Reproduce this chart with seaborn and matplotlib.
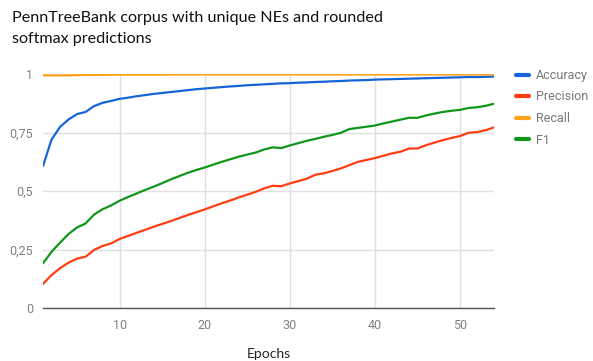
import numpy as np
import pandas as pd
import matplotlib
matplotlib.use("Agg")
import matplotlib.pyplot as plt
import seaborn as sns
from matplotlib.ticker import FixedLocator, FixedFormatter

epochs = list(range(1, 55))

accuracy = [0.607, 0.720, 0.774, 0.806, 0.829, 0.838, 0.863, 0.877, 0.885, 0.894,
            0.899, 0.905, 0.910, 0.915, 0.919, 0.923, 0.927, 0.931, 0.935, 0.938,
            0.941, 0.944, 0.947, 0.949, 0.952, 0.954, 0.956, 0.958, 0.960, 0.961,
            0.963, 0.964, 0.966, 0.967, 0.969, 0.970, 0.972, 0.973, 0.974, 0.976,
            0.977, 0.978, 0.979, 0.980, 0.981, 0.982, 0.983, 0.984, 0.985, 0.986,
            0.987, 0.987, 0.988, 0.989]

precision = [0.104, 0.142, 0.171, 0.195, 0.212, 0.220, 0.249, 0.266, 0.277, 0.296,
             0.309, 0.322, 0.335, 0.348, 0.360, 0.372, 0.385, 0.398, 0.410, 0.422,
             0.435, 0.448, 0.460, 0.473, 0.485, 0.497, 0.512, 0.523, 0.521, 0.533,
             0.543, 0.553, 0.570, 0.576, 0.586, 0.597, 0.611, 0.625, 0.633, 0.641,
             0.651, 0.661, 0.668, 0.682, 0.682, 0.696, 0.707, 0.718, 0.727, 0.735,
             0.749, 0.752, 0.760, 0.772]

recall = [0.994, 0.994, 0.994, 0.994, 0.995, 0.996, 0.996, 0.996, 0.997, 0.997,
          0.997, 0.997, 0.997, 0.997, 0.997, 0.998, 0.998, 0.998, 0.998, 0.998,
          0.998, 0.998, 0.998, 0.998, 0.998, 0.998, 0.998, 0.998, 0.998, 0.998,
          0.998, 0.998, 0.998, 0.998, 0.998, 0.998, 0.998, 0.998, 0.998, 0.998,
          0.998, 0.998, 0.998, 0.998, 0.998, 0.998, 0.998, 0.998, 0.998, 0.998,
          0.998, 0.998, 0.998, 0.998]

f1 = [0.192, 0.241, 0.280, 0.317, 0.345, 0.362, 0.400, 0.423, 0.439, 0.459,
      0.475, 0.490, 0.505, 0.519, 0.534, 0.550, 0.564, 0.578, 0.590, 0.601,
      0.613, 0.625, 0.636, 0.647, 0.656, 0.665, 0.678, 0.687, 0.684, 0.695,
      0.705, 0.715, 0.723, 0.732, 0.740, 0.749, 0.765, 0.770, 0.775, 0.780,
      0.789, 0.797, 0.805, 0.813, 0.813, 0.823, 0.831, 0.838, 0.843, 0.847,
      0.855, 0.858, 0.864, 0.873]

series_names = ["Accuracy", "Precision", "Recall", "F1"]
colors = ["#1565d8", "#ff3d12", "#ffa21a", "#109618"]

y_ticks = [0, 0.25, 0.5, 0.75, 1]
y_tick_labels = ["0", "0,25", "0,5", "0,75", "1"]
x_ticks = [10, 20, 30, 40, 50]

df = pd.DataFrame({
    "Epochs": epochs * 4,
    "value": accuracy + precision + recall + f1,
    "metric": sum([[n] * len(epochs) for n in series_names], []),
})

sns.set_theme(style="white")
plt.rcParams["font.family"] = ["Roboto", "DejaVu Sans"]

fig = plt.figure(figsize=(5.93, 3.61), dpi=100)
ax = fig.add_axes([43 / 593, 1 - 308.3 / 361, (494 - 43) / 593, (308.3 - 74) / 361])

sns.lineplot(data=df, x="Epochs", y="value", hue="metric", hue_order=series_names,
             palette=colors, linewidth=1.6, ax=ax, legend=True)

ax.set_xlim(1, 54)
ax.set_ylim(0, 1)
ax.yaxis.set_major_locator(FixedLocator(y_ticks))
ax.yaxis.set_major_formatter(FixedFormatter(y_tick_labels))
ax.xaxis.set_major_locator(FixedLocator(x_ticks))
ax.grid(True, color="#e0e0e0", linewidth=1.0)
ax.set_axisbelow(True)
for s in ["top", "right", "left"]:
    ax.spines[s].set_visible(False)
ax.spines["bottom"].set_color("#555555")
ax.spines["bottom"].set_linewidth(1.0)
ax.spines["bottom"].set_zorder(5)
ax.tick_params(axis="both", length=0, labelsize=9, labelcolor="#808080")
ax.tick_params(axis="x", pad=8)
ax.tick_params(axis="y", pad=7)
ax.set_ylabel("")
ax.set_xlabel("Epochs", fontsize=10, color="#222222", labelpad=11, family=["Lato", "DejaVu Sans"])

handles, labels = ax.get_legend_handles_labels()
ax.legend(handles=handles, labels=labels, loc="upper left",
          bbox_to_anchor=(511 / 593, 1 - 64 / 361), bbox_transform=fig.transFigure,
          frameon=False, fontsize=9, labelcolor="#777777", handlelength=1.0,
          handletextpad=0.6, labelspacing=0.68, borderaxespad=0)
for lh in ax.get_legend().get_lines():
    lh.set_linewidth(3)

fig.text(12 / 593, 1 - 11 / 361, "PennTreeBank corpus with unique NEs and rounded\nsoftmax predictions",
         ha="left", va="top", fontsize=11.6, color="#111111", linespacing=1.6,
         family=["Lato", "DejaVu Sans"])

fig.savefig("out.png", dpi=100)
